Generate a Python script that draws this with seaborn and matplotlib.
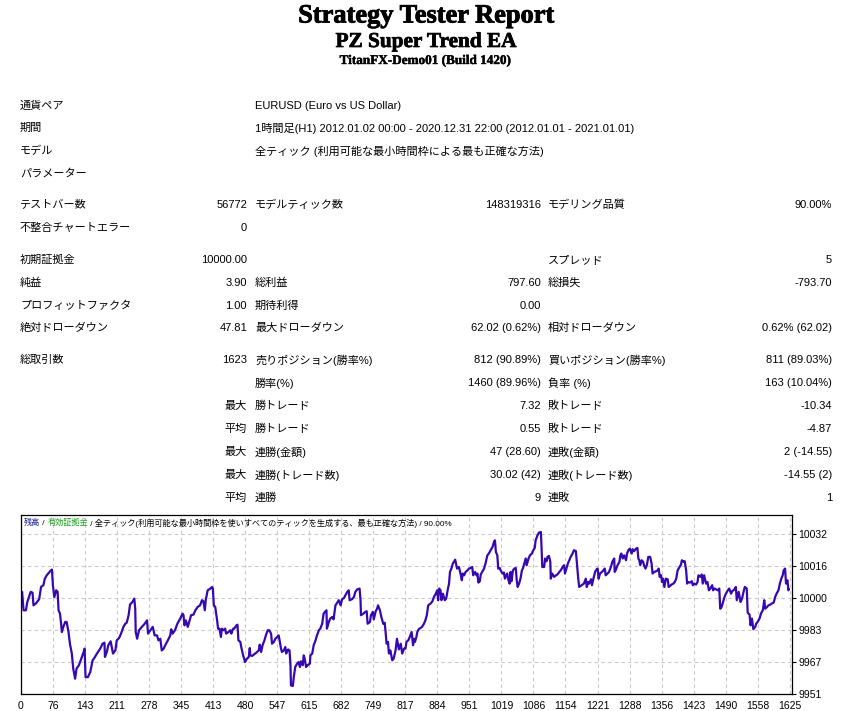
import numpy as np
import pandas as pd
import matplotlib
matplotlib.use('Agg')
import matplotlib.pyplot as plt
import matplotlib.patheffects as pe
import seaborn as sns

# ---- header text
report_title = 'Strategy Tester Report'
ea_name = 'PZ Super Trend EA'
server_name = 'TitanFX-Demo01 (Build 1420)'

info_labels = ['通貨ペア', '期間', 'モデル', 'パラメーター']
info_values = ['EURUSD (Euro vs US Dollar)',
               '1時間足(H1) 2012.01.02 00:00 - 2020.12.31 22:00 (2012.01.01 - 2021.01.01)',
               '全ティック (利用可能な最小時間枠による最も正確な方法)',
               '']

# ---- statistics (three label/value column pairs)
col1_labels = ['テストバー数', '不整合チャートエラー', '初期証拠金', '純益', 'プロフィットファクタ',
               '絶対ドローダウン', '総取引数', '', '', '', '', '', '']
col1_values = ['56772', '0', '10000.00', '3.90', '1.00', '47.81', '1623',
               '', '最大', '平均', '最大', '最大', '平均']
col2_labels = ['モデルティック数', '', '', '総利益', '期待利得', '最大ドローダウン',
               '売りポジション(勝率%)', '勝率(%)', '勝トレード', '勝トレード',
               '連勝(金額)', '連勝(トレード数)', '連勝']
col2_values = ['148319316', '', '', '797.60', '0.00', '62.02 (0.62%)', '812 (90.89%)',
               '1460 (89.96%)', '7.32', '0.55', '47 (28.60)', '30.02 (42)', '9']
col3_labels = ['モデリング品質', '', 'スプレッド', '総損失', '', '相対ドローダウン',
               '買いポジション(勝率%)', '負率 (%)', '敗トレード', '敗トレード',
               '連敗(金額)', '連敗(トレード数)', '連敗']
col3_values = ['90.00%', '', '5', '-793.70', '', '0.62% (62.02)', '811 (89.03%)',
               '163 (10.04%)', '-10.34', '-4.87', '2 (-14.55)', '-14.55 (2)', '1']

# ---- balance curve (trade number, balance)
trade = [0, 3, 6, 11, 14, 21, 25, 27, 32, 39, 43, 48, 51, 55, 62, 66, 68, 71, 75, 78,
         80, 83, 85, 87, 90, 94, 97, 101, 104, 108, 111, 115, 118, 123, 128, 133, 135, 137, 142, 147,
         152, 157, 161, 168, 173, 177, 178, 182, 185, 190, 195, 200, 203, 208, 212, 217, 221, 224, 228, 231,
         236, 240, 242, 243, 246, 250, 256, 262, 267, 269, 274, 279, 283, 288, 291, 295, 298, 302, 307, 311,
         316, 318, 321, 326, 331, 337, 342, 344, 346, 349, 353, 356, 360, 365, 369, 374, 379, 383, 386, 389,
         391, 395, 401, 404, 406, 408, 411, 415, 417, 420, 423, 425, 429, 432, 434, 439, 443, 445, 449, 451,
         456, 458, 460, 464, 466, 469, 471, 474, 478, 482, 484, 485, 489, 492, 498, 503, 505, 508, 511, 515,
         518, 522, 525, 529, 531, 535, 538, 542, 545, 547, 550, 552, 556, 559, 561, 565, 568, 570, 571, 575,
         577, 580, 584, 587, 590, 592, 596, 598, 600, 603, 606, 611, 612, 616, 619, 623, 626, 630, 633, 637,
         640, 644, 646, 647, 651, 654, 658, 661, 665, 669, 672, 676, 679, 683, 686, 690, 693, 695, 700, 704,
         707, 711, 716, 718, 719, 724, 728, 731, 733, 738, 740, 744, 746, 750, 753, 755, 759, 762, 766, 769,
         771, 773, 776, 778, 781, 785, 788, 792, 795, 799, 803, 806, 810, 813, 815, 819, 822, 826, 829, 831,
         833, 836, 838, 841, 845, 848, 852, 855, 858, 861, 866, 870, 873, 877, 880, 882, 884, 887, 889, 892,
         896, 899, 902, 905, 907, 910, 913, 918, 919, 922, 926, 930, 932, 934, 937, 940, 944, 947, 951, 954,
         956, 960, 963, 965, 967, 970, 972, 975, 979, 982, 986, 989, 993, 997, 1000, 1002, 1004, 1007, 1009, 1012,
         1014, 1018, 1021, 1023, 1026, 1028, 1030, 1033, 1035, 1037, 1040, 1043, 1046, 1048, 1050, 1053, 1056, 1059, 1061, 1064,
         1067, 1069, 1073, 1076, 1080, 1083, 1086, 1088, 1092, 1095, 1099, 1100, 1102, 1106, 1108, 1111, 1113, 1116, 1119, 1120,
         1123, 1127, 1131, 1134, 1138, 1141, 1145, 1148, 1150, 1153, 1156, 1159, 1162, 1166, 1169, 1173, 1175, 1178, 1180, 1183,
         1187, 1190, 1194, 1196, 1199, 1201, 1205, 1207, 1210, 1214, 1217, 1219, 1221, 1224, 1228, 1231, 1234, 1236, 1240, 1243,
         1247, 1250, 1254, 1255, 1257, 1261, 1265, 1267, 1269, 1272, 1275, 1279, 1281, 1284, 1287, 1291, 1293, 1296, 1300, 1303,
         1305, 1307, 1309, 1312, 1315, 1317, 1320, 1323, 1326, 1330, 1333, 1335, 1339, 1342, 1346, 1348, 1350, 1353, 1355, 1357,
         1360, 1363, 1367, 1369, 1372, 1375, 1379, 1382, 1385, 1388, 1391, 1395, 1397, 1401, 1403, 1406, 1408, 1410, 1414, 1418,
         1420, 1423, 1427, 1430, 1432, 1436, 1439, 1441, 1444, 1448, 1451, 1454, 1457, 1461, 1463, 1466, 1469, 1473, 1476, 1478,
         1481, 1484, 1487, 1490, 1494, 1497, 1501, 1503, 1506, 1509, 1511, 1513, 1517, 1521, 1524, 1528, 1530, 1534, 1536, 1540,
         1542, 1545, 1548, 1552, 1554, 1557, 1561, 1564, 1568, 1571, 1573, 1577, 1580, 1584, 1587, 1591, 1594, 1597, 1601, 1604,
         1607, 1610, 1612, 1615, 1617, 1620, 1622, 1623]
balance = [10000.0, 10002.5, 9993.2, 9993.2, 9997.4, 10002.5, 10002.1, 9995.7, 9996.6, 9998.8,
           10005.0, 10005.9, 10009.2, 10010.9, 10012.9, 10013.8, 10005.9, 9999.9, 10003.3, 10002.5,
           9993.2, 9991.5, 9987.3, 9982.2, 9984.8, 9987.3, 9987.3, 9982.2, 9976.3, 9971.3,
           9963.7, 9958.6, 9963.7, 9965.4, 9968.7, 9972.1, 9973.8, 9959.4, 9959.4, 9962.0,
           9967.9, 9969.6, 9971.3, 9973.8, 9976.3, 9976.8, 9969.6, 9972.1, 9975.5, 9977.5,
           9971.3, 9972.9, 9978.0, 9979.2, 9981.4, 9984.8, 9986.4, 9986.9, 9990.7, 9996.1,
           9997.4, 9999.1, 9994.0, 9982.2, 9978.8, 9983.1, 9984.8, 9986.4, 9988.1, 9981.4,
           9983.1, 9984.8, 9980.5, 9980.5, 9978.0, 9978.8, 9972.9, 9973.8, 9976.3, 9978.0,
           9980.5, 9983.6, 9981.4, 9983.1, 9986.4, 9989.0, 9991.5, 9990.7, 9985.6, 9988.1,
           9984.8, 9987.3, 9990.7, 9991.0, 9993.2, 9994.9, 9995.7, 9998.3, 9997.8, 9993.2,
           9998.3, 10003.3, 10004.2, 10005.0, 10004.2, 9995.7, 9994.9, 9988.1, 9983.9, 9983.9,
           9979.7, 9983.9, 9983.1, 9983.9, 9981.4, 9982.2, 9983.1, 9981.4, 9983.9, 9983.9,
           9985.6, 9985.9, 9978.0, 9977.2, 9974.6, 9971.3, 9969.6, 9967.0, 9968.7, 9969.6,
           9974.1, 9970.4, 9970.1, 9970.7, 9971.8, 9972.9, 9975.8, 9972.1, 9975.5, 9978.0,
           9980.5, 9983.1, 9983.1, 9981.4, 9976.3, 9977.2, 9978.8, 9979.7, 9980.5, 9978.0,
           9973.8, 9972.1, 9972.9, 9974.6, 9971.3, 9973.4, 9972.9, 9965.4, 9955.2, 9954.9,
           9959.4, 9964.5, 9966.2, 9967.0, 9964.5, 9967.4, 9965.4, 9970.4, 9968.7, 9964.5,
           9965.4, 9966.2, 9970.4, 9971.3, 9975.5, 9978.0, 9980.5, 9983.1, 9983.9, 9986.4,
           9991.5, 9992.7, 9993.2, 9983.9, 9987.3, 9989.0, 9989.8, 9988.6, 9995.7, 9997.1,
           9998.3, 9995.7, 9998.8, 9999.4, 10000.8, 10002.5, 10003.3, 9998.3, 9998.8, 9999.9,
           10002.5, 10003.8, 10004.2, 9998.3, 9990.7, 9991.5, 9992.4, 9992.7, 9986.4, 9987.3,
           9990.7, 9992.4, 9988.6, 9992.7, 9994.0, 9995.7, 9993.2, 9989.8, 9986.4, 9986.9,
           9982.2, 9976.3, 9977.2, 9971.3, 9972.9, 9967.9, 9968.7, 9972.9, 9978.8, 9973.4,
           9976.3, 9971.3, 9973.8, 9973.8, 9977.2, 9978.0, 9979.7, 9982.2, 9975.5, 9978.8,
           9977.2, 9979.7, 9982.2, 9983.6, 9984.3, 9984.8, 9986.4, 9988.1, 9990.7, 9995.7,
           9996.6, 9997.8, 9999.9, 10001.6, 10003.3, 9998.3, 10004.2, 10003.3, 9998.3, 10001.6,
           9998.3, 9999.1, 10003.3, 10006.7, 10012.6, 10014.3, 10016.8, 10018.8, 10017.7, 10014.3,
           10015.1, 10010.9, 10008.4, 10011.8, 10010.9, 10012.6, 10013.4, 10014.3, 10014.6, 10015.1,
           10010.9, 10012.6, 10010.9, 10011.8, 10007.2, 10007.9, 10011.3, 10012.6, 10014.3, 10016.8,
           10021.0, 10021.9, 10023.6, 10025.3, 10027.8, 10028.6, 10022.7, 10021.0, 10014.3, 10014.6,
           10013.4, 10011.8, 10012.3, 10009.2, 10010.9, 10011.8, 10008.9, 10006.7, 10012.6, 10007.9,
           10013.4, 10014.3, 10014.6, 10008.4, 10005.0, 10006.7, 10009.2, 10013.4, 10014.3, 10016.8,
           10019.4, 10016.0, 10019.4, 10021.0, 10021.9, 10023.6, 10024.7, 10028.6, 10031.2, 10032.5,
           10032.8, 10027.8, 10015.1, 10015.1, 10019.4, 10018.0, 10020.2, 10020.7, 10017.7, 10009.2,
           10011.8, 10010.1, 10010.9, 10011.3, 10012.6, 10013.4, 10015.1, 10016.0, 10011.8, 10014.3,
           10016.8, 10018.5, 10020.2, 10021.9, 10023.6, 10023.1, 10017.7, 10009.2, 10005.0, 10005.5,
           10006.2, 10006.7, 10009.2, 10005.0, 10007.5, 10006.7, 10008.9, 10005.9, 10009.2, 10012.9,
           10013.9, 10014.3, 10009.2, 10011.8, 10012.6, 10013.4, 10014.3, 10010.9, 10011.8, 10012.6,
           10015.1, 10017.7, 10019.4, 10012.6, 10013.4, 10016.0, 10017.7, 10021.0, 10021.9, 10019.4,
           10021.0, 10018.5, 10021.9, 10023.6, 10024.4, 10021.9, 10024.1, 10023.1, 10024.4, 10024.7,
           10019.4, 10018.5, 10016.0, 10018.5, 10017.7, 10016.0, 10014.3, 10016.0, 10020.2, 10020.2,
           10016.8, 10011.8, 10012.6, 10012.9, 10013.4, 10014.3, 10010.1, 10010.9, 10007.5, 10009.2,
           10005.0, 10009.2, 10008.9, 10005.0, 10005.5, 10006.2, 10006.7, 10007.5, 10009.2, 10013.4,
           10014.6, 10016.3, 10018.5, 10017.7, 10018.0, 10013.4, 10006.7, 10007.5, 10007.2, 10007.9,
           10005.9, 10006.7, 10006.2, 10007.5, 10010.9, 10010.1, 10011.3, 10006.7, 10010.9, 10006.7,
           10007.5, 10003.3, 10004.2, 10005.9, 10003.3, 10004.2, 10003.8, 10003.3, 10004.2, 9994.0,
           9994.9, 9997.4, 9999.9, 10001.6, 10003.3, 10004.2, 10001.6, 10002.8, 10003.3, 10004.2,
           10005.0, 9998.3, 10002.5, 9997.4, 9999.1, 10003.3, 10005.0, 10004.2, 9992.0, 9991.0,
           9985.6, 9989.0, 9983.6, 9984.8, 9986.4, 9987.3, 9989.0, 9991.5, 9993.2, 9998.3,
           9994.0, 9994.9, 9995.7, 9996.1, 9996.6, 9997.1, 9999.9, 10001.6, 10003.3, 10006.7,
           10009.2, 10010.9, 10013.4, 10014.3, 10006.7, 10008.4, 10003.3, 10003.9]

x_tick_labels = ['0', '76', '143', '211', '278', '345', '413', '480', '547', '615', '682', '749', '817',
                 '884', '951', '1019', '1086', '1154', '1221', '1288', '1356', '1423', '1490', '1558', '1625']
y_tick_labels = ['9951', '9967', '9983', '10000', '10016', '10032']

chart_caption = ['残高', ' / ', '有効証拠金', ' / 全ティック(利用可能な最小時間枠を使いすべてのティックを生成する、最も正確な方法) / 90.00%']
caption_colors = ['#1a1a9c', 'black', '#1a9c1a', 'black']

sns.set_style('white')
plt.rcParams['font.family'] = ['Liberation Sans', 'Noto Sans CJK JP', 'DejaVu Sans']
plt.rcParams['text.color'] = 'black'
plt.rcParams['xtick.color'] = 'black'
plt.rcParams['ytick.color'] = 'black'

W, H = 865, 711
fig = plt.figure(figsize=(W / 100, H / 100), dpi=100)


def put(x, y, s, **kw):
    fig.text(x / W, 1 - y / H, s, va='center', color='black', **kw)


# titles (thin stroke so the serif face reads as heavy as the original)
put(426, 16, report_title, ha='center', fontsize=19, fontweight='bold',
    family='Liberation Serif', path_effects=[pe.withStroke(linewidth=0.6, foreground='black')])
put(426, 42, ea_name, ha='center', fontsize=15.3, fontweight='bold',
    family='Liberation Serif', path_effects=[pe.withStroke(linewidth=0.5, foreground='black')])
put(426, 61, server_name, ha='center', fontsize=9.5, fontweight='bold',
    family='Liberation Serif', path_effects=[pe.withStroke(linewidth=0.3, foreground='black')])

fs = 8
info_y = [106, 128, 151, 174]
for yy, lab, val in zip(info_y, info_labels, info_values):
    put(20, yy, lab, fontsize=fs)
    put(255, yy, val, fontsize=fs)

stat_y = [205, 228, 260, 283, 306, 328, 360, 383, 406, 429, 452, 475, 498]
for i, yy in enumerate(stat_y):
    put(20, yy, col1_labels[i], fontsize=fs)
    put(247, yy, col1_values[i], fontsize=fs, ha='right')
    put(255, yy, col2_labels[i], fontsize=fs)
    put(541, yy, col2_values[i], fontsize=fs, ha='right')
    put(548, yy, col3_labels[i], fontsize=fs)
    put(832, yy, col3_values[i], fontsize=fs, ha='right')

# ---- balance chart
ax = fig.add_axes([20.7 / W, 1 - 693.7 / H, 771 / W, 178.7 / H])
df = pd.DataFrame({'trade': trade, 'balance': balance})
sns.lineplot(data=df, x='trade', y='balance', ax=ax, sort=False, estimator=None,
             color='#3508b0', linewidth=1.6)

ax.set_xlim(0, 1629)
y_ticks = 9951 + 16.2 * np.arange(6)
ax.set_ylim(9951, 10041.4)
ax.set_xticks(np.linspace(0, 1625, 25))
ax.set_xticklabels(x_tick_labels, fontsize=7.5)
ax.set_yticks(y_ticks)
ax.set_yticklabels(y_tick_labels, fontsize=7.5)
ax.yaxis.tick_right()
ax.tick_params(axis='both', length=3, width=0.8, color='black', labelcolor='black', pad=2)
ax.set_xlabel('')
ax.set_ylabel('')
ax.grid(True, color='#c8c8c8', linestyle=(0, (3, 3)), linewidth=0.8)
for sp in ax.spines.values():
    sp.set_color('black')
    sp.set_linewidth(0.9)

# caption inside the chart, coloured parts
t = ax.text(3.5 / 771, 1 - 8 / 178.7, chart_caption[0], transform=ax.transAxes,
            fontsize=5.9, color=caption_colors[0], va='center')
for part, col in zip(chart_caption[1:], caption_colors[1:]):
    t = ax.annotate(part, xy=(1, 0.5), xycoords=t, va='center', ha='left',
                    fontsize=5.9, color=col)

fig.savefig('out.png', dpi=100)
